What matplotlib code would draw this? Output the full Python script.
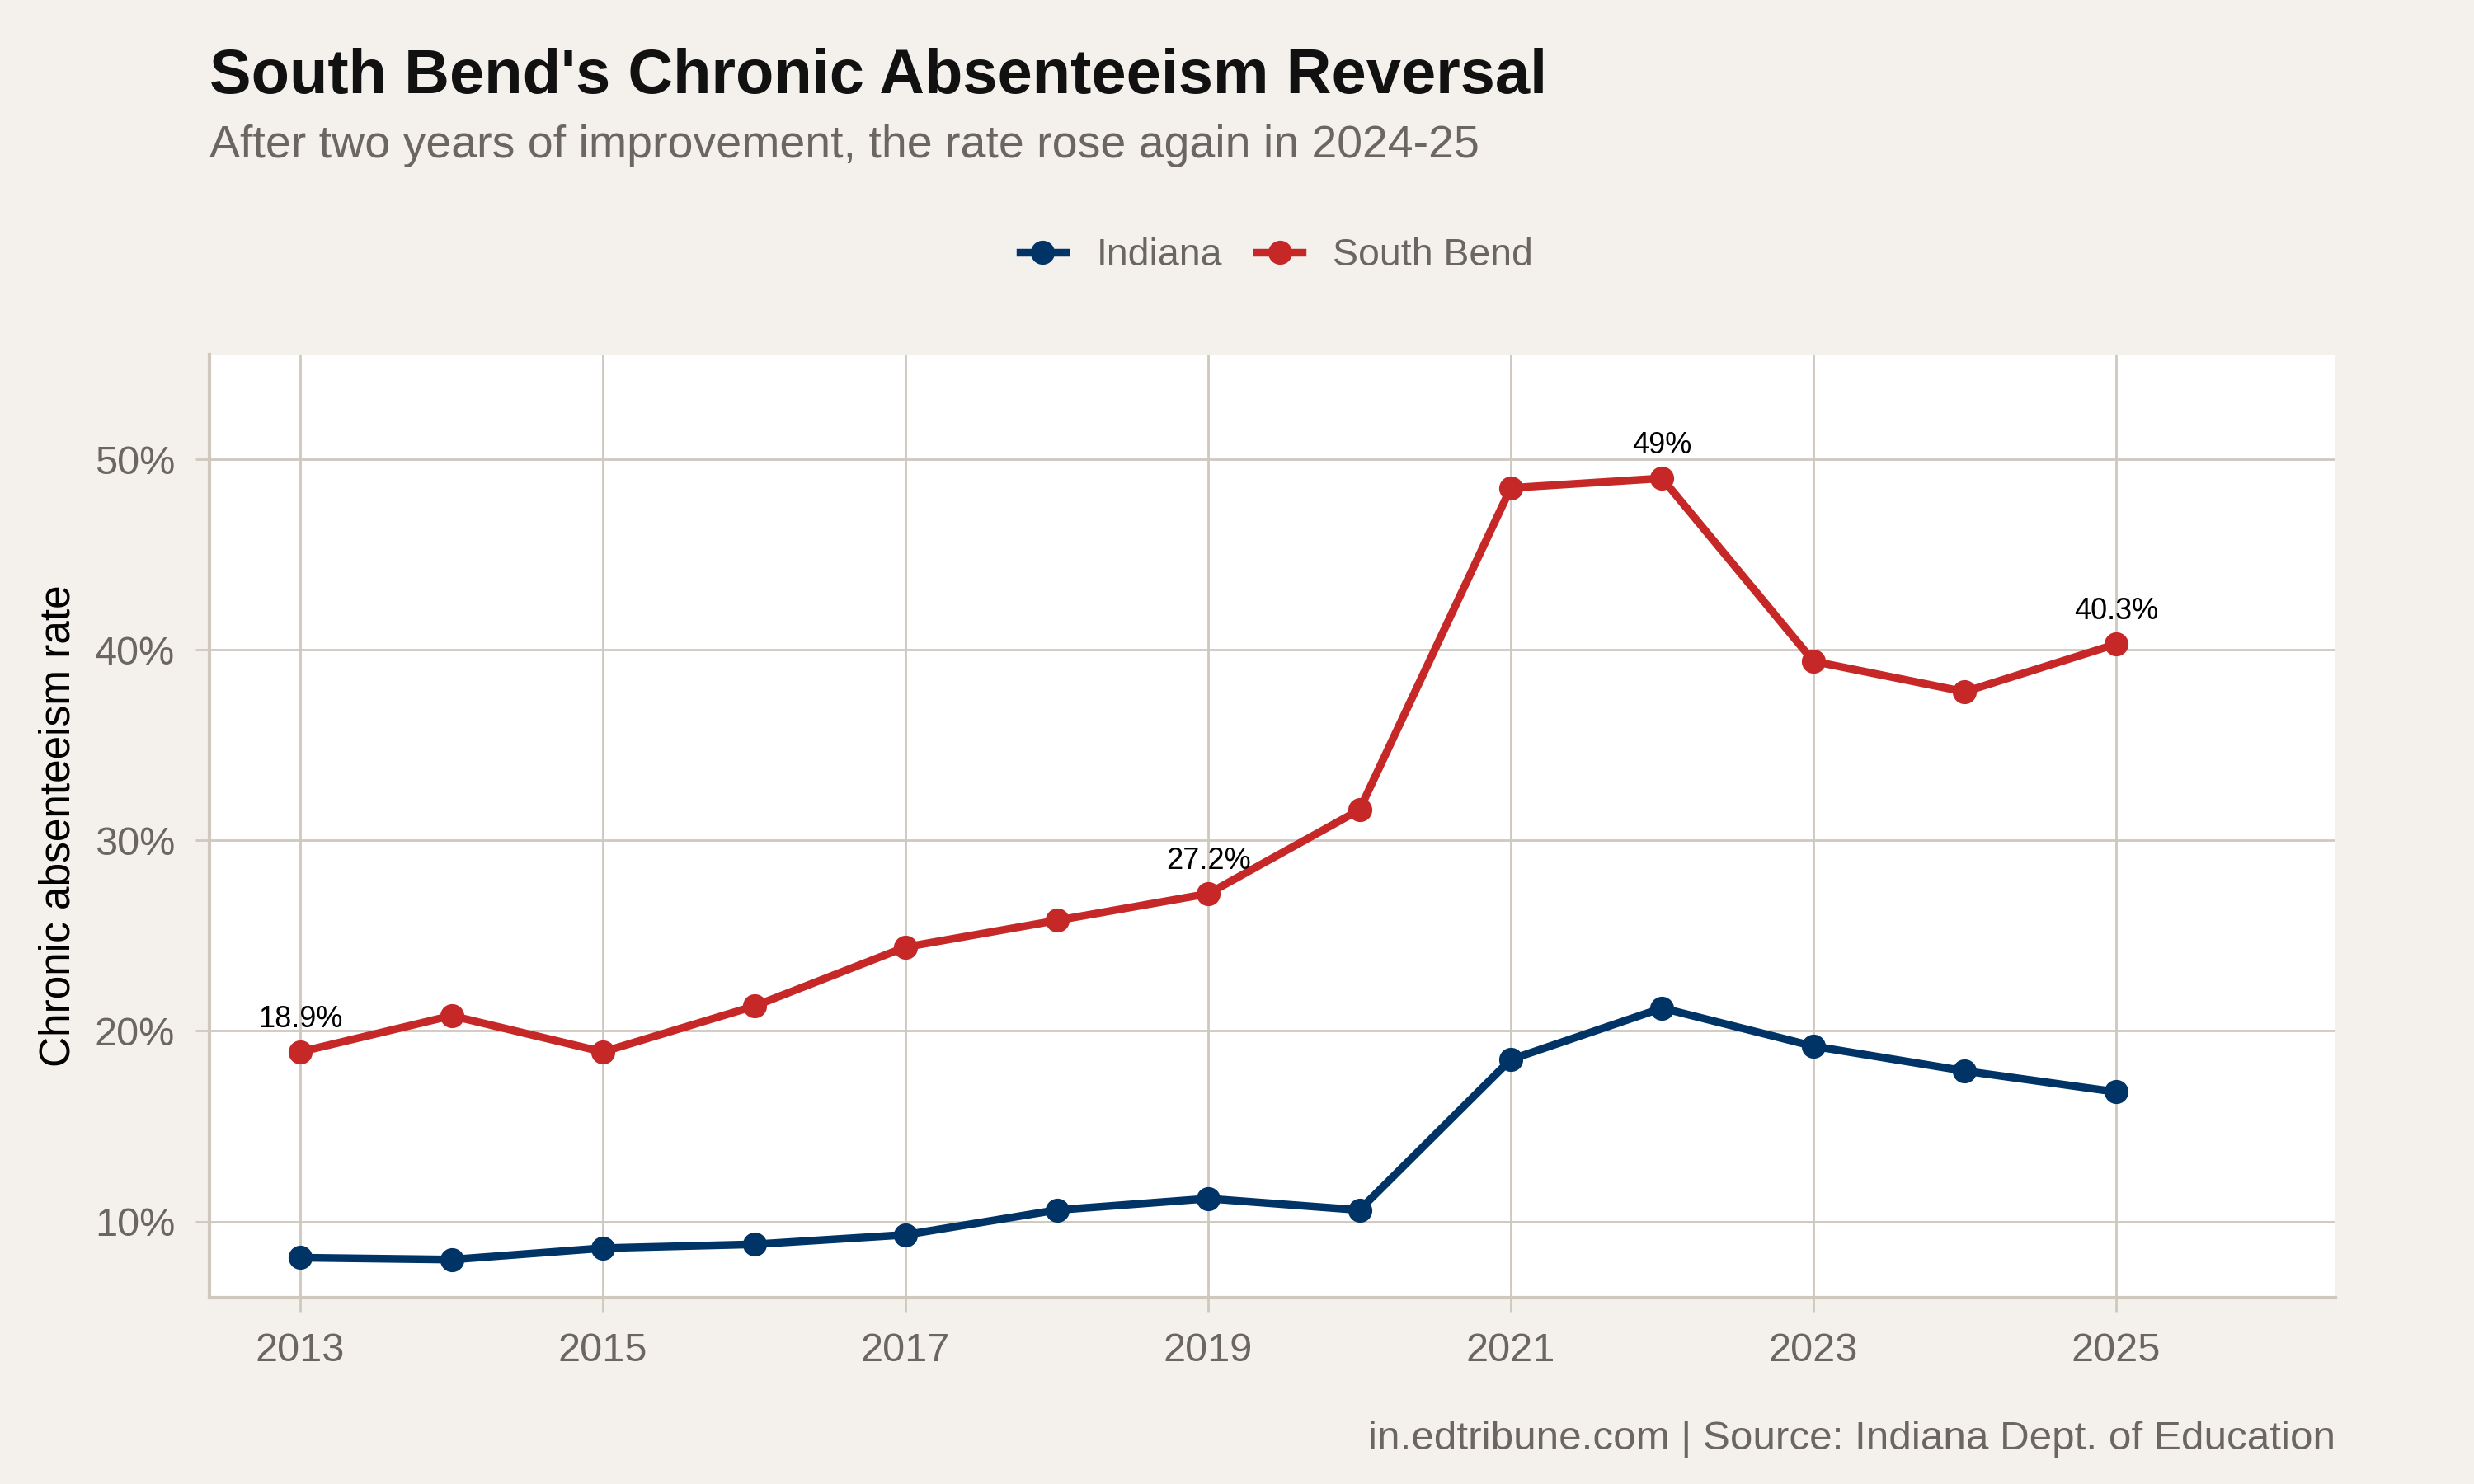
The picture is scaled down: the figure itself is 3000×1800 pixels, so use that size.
import matplotlib.pyplot as plt
from matplotlib.ticker import FuncFormatter

plt.rcParams['font.family'] = ['Liberation Sans', 'DejaVu Sans']

years = [2013, 2014, 2015, 2016, 2017, 2018, 2019, 2020, 2021, 2022, 2023, 2024, 2025]
indiana = [8.1, 8.0, 8.6, 8.8, 9.3, 10.6, 11.2, 10.6, 18.5, 21.2, 19.2, 17.9, 16.8]
south_bend = [18.9, 20.8, 18.9, 21.3, 24.4, 25.8, 27.2, 31.6, 48.5, 49.0, 39.4, 37.8, 40.3]
label_years = [2013, 2019, 2022, 2025]
label_texts = ["18.9%", "27.2%", "49%", "40.3%"]

bg = "#F4F1EC"
grid_c = "#CEC8BF"
navy = "#003366"
red = "#C62828"
grey_txt = "#6B6661"

fig = plt.figure(figsize=(15, 9), dpi=200, facecolor=bg)
ax = fig.add_axes([254 / 3000, 1 - 1574 / 1800, (2832 - 254) / 3000, (1574 - 430) / 1800])
ax.set_facecolor("white")

ax.plot(years, indiana, color=navy, lw=3.4, marker="o", ms=9.5, label="Indiana", zorder=3)
ax.plot(years, south_bend, color=red, lw=3.4, marker="o", ms=9.5, label="South Bend", zorder=3)

for yr, txt in zip(label_years, label_texts):
    v = south_bend[years.index(yr)]
    ax.annotate(txt, (yr, v), xytext=(0, 8), textcoords="offset points",
                ha="center", va="bottom", fontsize=13, color="black")

ax.set_xlim(2012.4, 2026.45)
ax.set_ylim(6.0, 55.5)
ax.set_xticks([2013, 2015, 2017, 2019, 2021, 2023, 2025])
ax.set_yticks([10, 20, 30, 40, 50])
ax.yaxis.set_major_formatter(FuncFormatter(lambda v, p: f"{v:.0f}%"))
ax.grid(True, which="major", color=grid_c, lw=1.0)
ax.set_axisbelow(True)

for s in ["top", "right"]:
    ax.spines[s].set_visible(False)
for s in ["left", "bottom"]:
    ax.spines[s].set_color(grid_c)
    ax.spines[s].set_linewidth(1.5)
ax.tick_params(which="major", colors=grid_c, labelcolor=grey_txt, labelsize=17.5, length=6, width=1, pad=9)
ax.set_ylabel("Chronic absenteeism rate", fontsize=18.5, color="black", labelpad=7)

fig.text(254 / 3000, 1 - 94 / 1800, "South Bend's Chronic Absenteeism Reversal",
         fontsize=27.3, fontweight="bold", color="#111111", ha="left", va="center")
fig.text(254 / 3000, 1 - 177 / 1800, "After two years of improvement, the rate rose again in 2024-25",
         fontsize=20, color=grey_txt, ha="left", va="center")
fig.text(2832 / 3000, 1 - 1745 / 1800, "in.edtribune.com | Source: Indiana Dept. of Education",
         fontsize=17.8, color=grey_txt, ha="right", va="center")

leg = fig.legend(loc="center", bbox_to_anchor=(1548 / 3000, 1 - 310 / 1800), ncol=2, frameon=False,
                 fontsize=16.7, handlelength=1.2, columnspacing=0.9, handletextpad=0.8)
for t in leg.get_texts():
    t.set_color(grey_txt)

fig.savefig("out.png", dpi=200, facecolor=bg)
